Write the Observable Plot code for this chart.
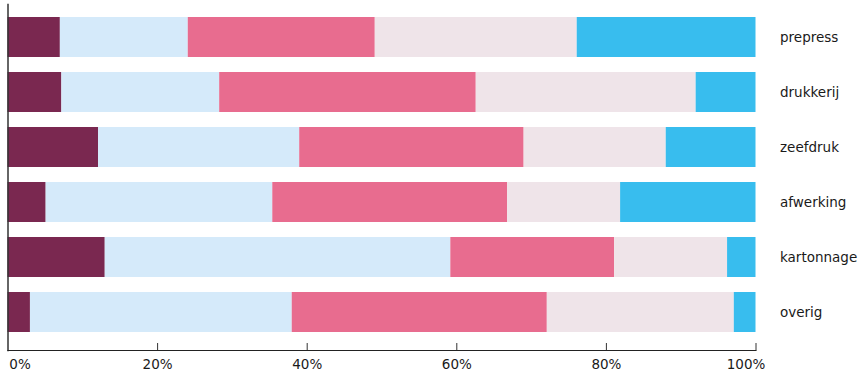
<!DOCTYPE html>
<html>
<head>
<meta charset="utf-8">
<script src="https://cdn.jsdelivr.net/npm/d3@7"></script>
<script src="https://cdn.jsdelivr.net/npm/@observablehq/plot@0.6"></script>
<style>
  html, body { margin: 0; padding: 0; background: #fff; }
  #chart svg { display: block; }
</style>
</head>
<body>
<div id="chart"></div>
<script>
const categories = ["prepress", "drukkerij", "zeefdruk", "afwerking", "kartonnage", "overig"];
const seriesNames = ["s1", "s2", "s3", "s4", "s5"];
const seriesColors = ["#7a2850", "#d5eafa", "#e86c8f", "#efe4e9", "#38bdee"];
// percentage shares per category (each row sums to 100)
const s1 = [7.0, 7.2, 12.1, 5.1, 13.0, 3.0];
const s2 = [17.1, 21.1, 26.9, 30.3, 46.2, 35.0];
const s3 = [25.0, 34.3, 30.0, 31.4, 21.9, 34.1];
const s4 = [27.0, 29.4, 19.0, 15.1, 15.1, 25.0];
const s5 = [23.9, 8.0, 12.0, 18.1, 3.8, 2.9];
const xTicks = [0, 20, 40, 60, 80, 100];

const seriesValues = [s1, s2, s3, s4, s5];
const rows = [];
categories.forEach((c, i) => {
  seriesNames.forEach((s, j) => rows.push({category: c, series: s, value: seriesValues[j][i]}));
});

const font = "'DejaVu Sans', sans-serif";
const fmt = d => d + "%";
const chart = Plot.plot({
  width: 866,
  height: 374,
  marginTop: 4,
  marginBottom: 24,
  marginLeft: 7.5,
  marginRight: 110.5,
  style: {fontFamily: font, fontSize: "13.5px", color: "#1a1a1a", background: "#fff"},
  x: {domain: [0, 100], axis: null, label: null},
  y: {domain: categories, range: [15, 333], paddingInner: 0.28, paddingOuter: 0, axis: null, label: null},
  color: {domain: seriesNames, range: seriesColors},
  marks: [
    Plot.barX(rows, Plot.stackX({y: "category", x: "value", fill: "series", order: seriesNames})),
    Plot.ruleX(xTicks.slice(1), {stroke: "#333", strokeWidth: 1, insetTop: 339}),
    Plot.frame({anchor: "left", stroke: "#333", strokeWidth: 1.5}),
    Plot.frame({anchor: "bottom", stroke: "#222", strokeWidth: 1.2}),
    Plot.axisX({ticks: xTicks.slice(0, 1), tickSize: 0, tickPadding: 9, tickFormat: fmt, dx: 12, label: null, fontSize: 13.5, fill: "#1a1a1a"}),
    Plot.axisX({ticks: xTicks.slice(1, 5), tickSize: 0, tickPadding: 9, tickFormat: fmt, label: null, fontSize: 13.5, fill: "#1a1a1a"}),
    Plot.axisX({ticks: xTicks.slice(5), tickSize: 0, tickPadding: 9, tickFormat: fmt, dx: -10, label: null, fontSize: 13.5, fill: "#1a1a1a"}),
    Plot.axisY({anchor: "right", tickSize: 0, tickPadding: 24, label: null, fontSize: 13.5, fill: "#1a1a1a"})
  ]
});
document.getElementById("chart").appendChild(chart);
</script>
</body>
</html>
